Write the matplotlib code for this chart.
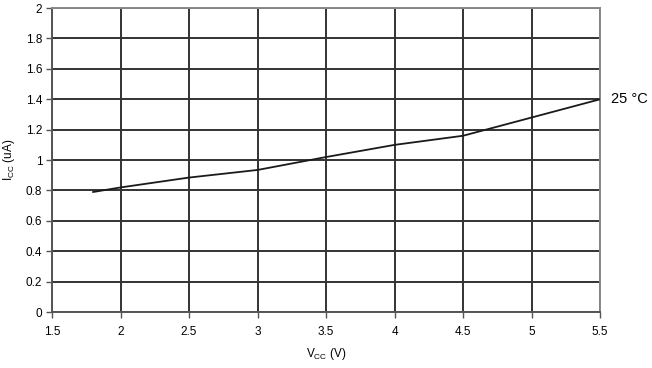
import matplotlib
matplotlib.use("Agg")
import matplotlib.pyplot as plt

# values
vcc = [1.8, 2.0, 2.5, 3.0, 3.5, 4.0, 4.5, 5.0, 5.5]
icc = [0.79, 0.82, 0.885, 0.935, 1.02, 1.10, 1.16, 1.28, 1.40]
x_ticks = [1.5, 2, 2.5, 3, 3.5, 4, 4.5, 5, 5.5]
y_ticks = [0, 0.2, 0.4, 0.6, 0.8, 1, 1.2, 1.4, 1.6, 1.8, 2]
curve_label = "25 °C"

plt.rcParams['font.family'] = ['Liberation Sans', 'DejaVu Sans']
plt.rcParams['font.size'] = 8.5

fig = plt.figure(figsize=(6.52, 3.68), dpi=100)
ax = fig.add_axes([0.0798, 0.152, 0.8405, 0.826])

ax.plot(vcc, icc, color='#1a1a1a', lw=1.3, zorder=3)
ax.set_xlim(1.5, 5.5)
ax.set_ylim(0, 2)
ax.set_xticks(x_ticks)
ax.set_xticklabels([f"{v:g}" for v in x_ticks])
ax.set_yticks(y_ticks)
ax.set_yticklabels([f"{v:g}" for v in y_ticks])
ax.grid(True, color='#333333', lw=1.4)
ax.set_axisbelow(True)

for side in ['left', 'bottom']:
    ax.spines[side].set_color('#555555')
    ax.spines[side].set_linewidth(1.4)
for side in ['top', 'right']:
    ax.spines[side].set_color('#888888')
    ax.spines[side].set_linewidth(1.4)

ax.tick_params(direction='out', length=4, width=1, color='#555555', pad=3)
ax.tick_params(axis='x', pad=6)

ax.set_xlabel("V$_{\\mathregular{CC}}$ (V)", labelpad=6)
ax.set_ylabel("I$_{\\mathregular{CC}}$ (uA)", labelpad=6)

ax.annotate(curve_label, xy=(vcc[-1], icc[-1]), xytext=(8, 0),
            textcoords='offset points', va='center', ha='left',
            fontsize=10.5, annotation_clip=False)

fig.savefig("out.png", dpi=100)
